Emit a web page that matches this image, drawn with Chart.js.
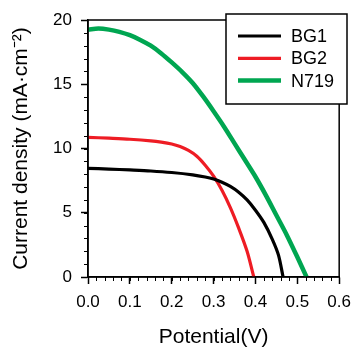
<!DOCTYPE html>
<html>
<head>
<meta charset="utf-8">
<script src="https://cdn.jsdelivr.net/npm/chart.js@4.4.1/dist/chart.umd.min.js"></script>
<style>
  html, body { margin: 0; padding: 0; background: #fff; }
</style>
</head>
<body>
<canvas id="grafica" width="359" height="350"></canvas>
<script>
const $grafica = document.querySelector("#grafica");

const etiquetas = ["BG1", "BG2", "N719"];

// potencial (V) y densidad de corriente (mA/cm2)
const vBG1 = [0, 0.05, 0.1, 0.15, 0.2, 0.25, 0.28, 0.3, 0.32, 0.34, 0.36, 0.38, 0.4, 0.42, 0.44, 0.455, 0.466];
const jBG1 = [8.45, 8.4, 8.33, 8.25, 8.13, 7.95, 7.78, 7.62, 7.38, 7.05, 6.6, 6.0, 5.2, 4.25, 2.95, 1.7, 0];

const vBG2 = [0, 0.05, 0.1, 0.15, 0.175, 0.2, 0.22, 0.24, 0.26, 0.28, 0.3, 0.32, 0.34, 0.36, 0.38, 0.396];
const jBG2 = [10.87, 10.8, 10.72, 10.6, 10.5, 10.35, 10.15, 9.85, 9.4, 8.7, 7.85, 6.75, 5.4, 3.8, 2.0, 0];

const vN719 = [0, 0.025, 0.05, 0.075, 0.1, 0.125, 0.15, 0.175, 0.2, 0.225, 0.25, 0.275,
               0.3, 0.325, 0.35, 0.375, 0.4, 0.425, 0.45, 0.475, 0.5, 0.522];
const jN719 = [19.25, 19.33, 19.25, 19.08, 18.82, 18.45, 18.0, 17.4, 16.7, 15.95, 15.1, 14.05,
               12.9, 11.7, 10.4, 9.1, 7.8, 6.35, 4.8, 3.25, 1.55, 0];

const ticksX = [0, 0.1, 0.2, 0.3, 0.4, 0.5, 0.6];
const ticksY = [0, 5, 10, 15, 20];

const puntos = (xs, ys) => xs.map((v, i) => ({x: v, y: ys[i]}));

const fuente = "'Liberation Sans', Arial, sans-serif";

// marco, ticks menores y leyenda con recuadro
const marco = {
    id: 'marco',
    afterDatasetsDraw(chart) {
        const {ctx, chartArea: a, scales: {x, y}} = chart;
        ctx.save();
        ctx.strokeStyle = '#000';
        ctx.lineWidth = 1.5;
        ctx.strokeRect(a.left, a.top, a.right - a.left, a.bottom - a.top);

        ctx.lineWidth = 1;
        ctx.beginPath();
        for (let k = 0; k <= 30; k++) {
            const px = Math.round(x.getPixelForValue(k * 0.02)) + 0.5;
            ctx.moveTo(px, a.bottom);
            ctx.lineTo(px, a.bottom + 4);
        }
        for (let k = 0; k <= 20; k++) {
            const py = Math.round(y.getPixelForValue(k)) + 0.5;
            ctx.moveTo(a.left, py);
            ctx.lineTo(a.left - 4, py);
        }
        ctx.stroke();

        // leyenda
        const bx = 226, by = 14, bw = 121, bh = 90;
        ctx.fillStyle = '#fff';
        ctx.fillRect(bx, by, bw, bh);
        ctx.strokeStyle = '#000';
        ctx.lineWidth = 1.5;
        ctx.strokeRect(bx, by, bw, bh);
        ctx.font = "18px " + fuente;
        ctx.textBaseline = 'middle';
        chart.data.datasets.forEach((ds, i) => {
            const ly = 36 + i * 22.3;
            ctx.strokeStyle = ds.borderColor;
            ctx.lineWidth = ds.borderWidth;
            ctx.beginPath();
            ctx.moveTo(238, ly);
            ctx.lineTo(281, ly);
            ctx.stroke();
            ctx.fillStyle = '#000';
            ctx.fillText(ds.label, 291, ly + 1);
        });
        ctx.restore();
    }
};

new Chart($grafica, {
    type: 'scatter',
    data: {
        datasets: [
            {label: etiquetas[0], data: puntos(vBG1, jBG1), borderColor: '#000000', borderWidth: 3.2},
            {label: etiquetas[1], data: puntos(vBG2, jBG2), borderColor: '#ee1c24', borderWidth: 3.2},
            {label: etiquetas[2], data: puntos(vN719, jN719), borderColor: '#00a651', borderWidth: 4.5},
        ].map(d => Object.assign(d, {showLine: true, pointRadius: 0, tension: 0.3, fill: false}))
    },
    options: {
        responsive: false,
        animation: false,
        layout: {padding: {left: 0, right: 13, top: 20, bottom: 0}},
        plugins: {legend: {display: false}, tooltip: {enabled: false}},
        scales: {
            x: {
                type: 'linear', min: 0, max: 0.6,
                afterBuildTicks: s => { s.ticks = ticksX.map(v => ({value: v})); },
                afterFit: s => { s.height = 73; },
                ticks: {
                    color: '#000', padding: 8, font: {family: fuente, size: 17},
                    callback: v => v.toFixed(1)
                },
                grid: {drawOnChartArea: false, drawTicks: true, tickLength: 7, tickColor: '#000', tickWidth: 1.5},
                border: {color: '#000', width: 1.5},
                title: {display: true, text: 'Potential(V)', color: '#000',
                    font: {family: fuente, size: 21}, padding: {top: 0, bottom: 0}}
            },
            y: {
                type: 'linear', min: 0, max: 20,
                afterBuildTicks: s => { s.ticks = ticksY.map(v => ({value: v})); },
                afterFit: s => { s.width = 88; },
                ticks: {color: '#000', padding: 9, font: {family: fuente, size: 17}},
                grid: {drawOnChartArea: false, drawTicks: true, tickLength: 7, tickColor: '#000', tickWidth: 1.5},
                border: {color: '#000', width: 1.5},
                title: {display: true, text: 'Current density (mA·cm⁻²)', color: '#000',
                    font: {family: fuente, size: 21}, padding: {top: 9, bottom: 0}}
            }
        }
    },
    plugins: [marco]
});
</script>
</body>
</html>
